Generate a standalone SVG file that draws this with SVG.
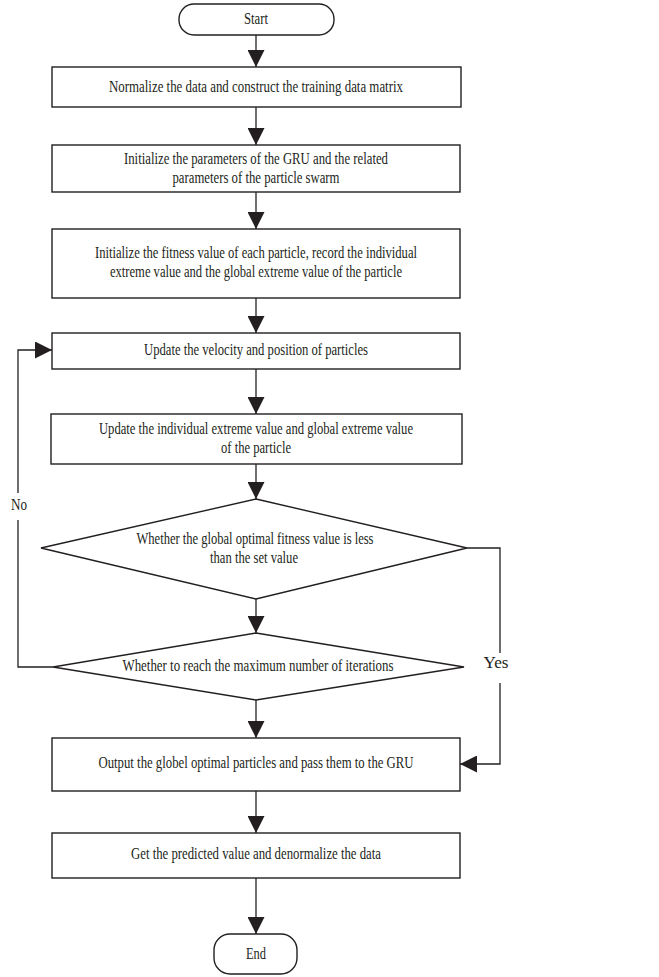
<svg xmlns="http://www.w3.org/2000/svg" width="659" height="977" viewBox="0 0 659 977">
<style>
.n{fill:#fff;stroke:#231f20;stroke-width:1.4}
.t{font-family:"Liberation Serif","Times New Roman",serif;font-size:16px;fill:#231f20;text-anchor:middle}
.c{fill:none;stroke:#231f20;stroke-width:1.3}
</style>
<defs>
<marker id="ah" markerUnits="userSpaceOnUse" markerWidth="17" markerHeight="17" refX="17" refY="8.5" orient="auto">
<path d="M0,0 L17,8.5 L0,17 z" fill="#231f20"/>
</marker>
</defs>
<rect width="659" height="977" fill="#fff"/>
<g id="connectors">
<path class="c" d="M256,35 V67" marker-end="url(#ah)"/>
<path class="c" d="M256,107 V145" marker-end="url(#ah)"/>
<path class="c" d="M256,192 V229" marker-end="url(#ah)"/>
<path class="c" d="M256,298 V333" marker-end="url(#ah)"/>
<path class="c" d="M256,369 V414" marker-end="url(#ah)"/>
<path class="c" d="M256,464 V499" marker-end="url(#ah)"/>
<path class="c" d="M256,599 V633" marker-end="url(#ah)"/>
<path class="c" d="M256,700 V738" marker-end="url(#ah)"/>
<path class="c" d="M256,791 V833" marker-end="url(#ah)"/>
<path class="c" d="M256,878 V934" marker-end="url(#ah)"/>
<path class="c" d="M53,667 H18 V520"/>
<path class="c" d="M18,493 V350 H52" marker-end="url(#ah)"/>
<path class="c" d="M467,548 H500 V653"/>
<path class="c" d="M500,683 V764 H460" marker-end="url(#ah)"/>
<text class="t" x="19" y="510" textLength="16" lengthAdjust="spacingAndGlyphs">No</text>
<text class="t" x="496" y="668" textLength="25" lengthAdjust="spacingAndGlyphs">Yes</text>
</g>
<g id="start">
<rect class="n" x="179" y="4" width="155" height="31" rx="15" ry="15"/>
<text class="t" x="256" y="24" textLength="24" lengthAdjust="spacingAndGlyphs">Start</text>
</g>
<g id="normalize">
<rect class="n" x="52" y="67" width="409" height="40"/>
<text class="t" x="256" y="92" textLength="294" lengthAdjust="spacingAndGlyphs">Normalize the data and construct the training data matrix</text>
</g>
<g id="init-params">
<rect class="n" x="52" y="145" width="408" height="47"/>
<text class="t" x="256" y="164" textLength="264" lengthAdjust="spacingAndGlyphs">Initialize the parameters of the GRU and the related</text>
<text class="t" x="256" y="183" textLength="167" lengthAdjust="spacingAndGlyphs">parameters of the particle swarm</text>
</g>
<g id="init-fitness">
<rect class="n" x="52" y="229" width="408" height="69"/>
<text class="t" x="256" y="258" textLength="322" lengthAdjust="spacingAndGlyphs">Initialize the fitness value of each particle, record the individual</text>
<text class="t" x="256" y="277" textLength="292" lengthAdjust="spacingAndGlyphs">extreme value and the global extreme value of the particle</text>
</g>
<g id="update-velocity">
<rect class="n" x="52" y="333" width="408" height="36"/>
<text class="t" x="256" y="355" textLength="224" lengthAdjust="spacingAndGlyphs">Update the velocity and position of particles</text>
</g>
<g id="update-extreme">
<rect class="n" x="51" y="414" width="411" height="50"/>
<text class="t" x="256" y="434" textLength="314" lengthAdjust="spacingAndGlyphs">Update the individual extreme value and global extreme value</text>
<text class="t" x="256" y="453" textLength="70" lengthAdjust="spacingAndGlyphs">of the particle</text>
</g>
<g id="decision-fitness">
<polygon class="n" points="256,499 467,548 256,599 41,548"/>
<text class="t" x="255" y="544" textLength="237" lengthAdjust="spacingAndGlyphs">Whether the global optimal fitness value is less</text>
<text class="t" x="254" y="563" textLength="88" lengthAdjust="spacingAndGlyphs">than the set value</text>
</g>
<g id="decision-iterations">
<polygon class="n" points="256,633 464,667 256,700 53,667"/>
<text class="t" x="258" y="671" textLength="271" lengthAdjust="spacingAndGlyphs">Whether to reach the maximum number of iterations</text>
</g>
<g id="output">
<rect class="n" x="52" y="738" width="408" height="53"/>
<text class="t" x="256" y="768" textLength="315" lengthAdjust="spacingAndGlyphs">Output the globel optimal particles and pass them to the GRU</text>
</g>
<g id="predict">
<rect class="n" x="52" y="833" width="408" height="45"/>
<text class="t" x="256" y="859" textLength="250" lengthAdjust="spacingAndGlyphs">Get the predicted value and denormalize the data</text>
</g>
<g id="end">
<rect class="n" x="214" y="934" width="83" height="40" rx="16" ry="16"/>
<text class="t" x="256" y="959" textLength="20" lengthAdjust="spacingAndGlyphs">End</text>
</g>
</svg>
